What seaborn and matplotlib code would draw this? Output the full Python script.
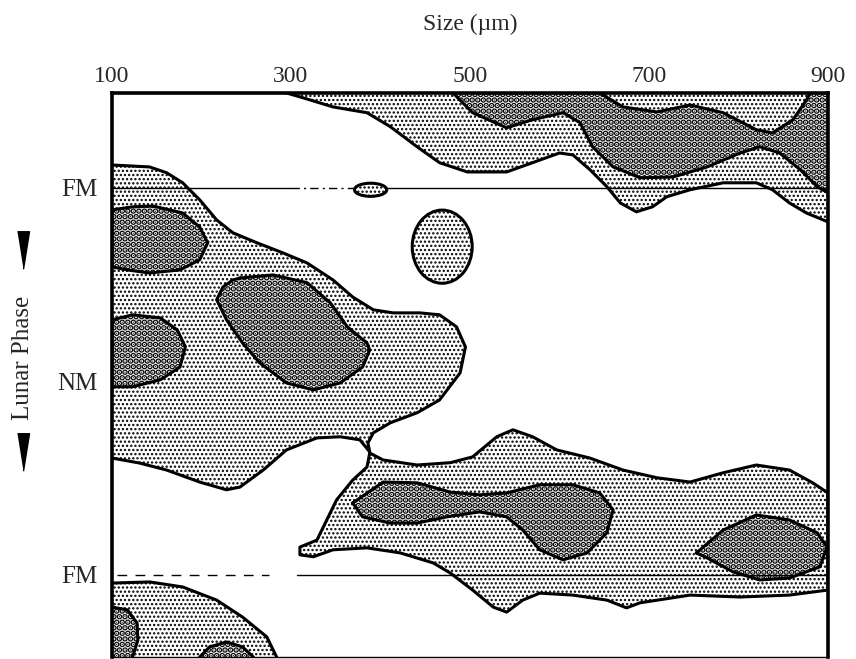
import matplotlib
matplotlib.use("Agg")
import matplotlib.pyplot as plt
import seaborn as sns
from matplotlib.patches import Ellipse

sns.set_style("white")
plt.rcParams['font.family'] = ['Liberation Serif', 'DejaVu Serif']
plt.rcParams['hatch.color'] = 'black'

# x = size (um), y = lunar phase (0 = full moon, 0.5 = new moon, 1 = next full moon)
size_ticks = [100, 300, 500, 700, 900]
phase_ticks = [0, 0.5, 1]
phase_labels = ["FM", "NM", "FM"]
y_top, y_bottom = -0.245, 1.212

# upper band (light) - lower edge, runs from top spine to right spine
top_light_x = [295, 310, 347, 385, 411, 441, 466, 497, 541, 570, 600, 615, 634, 653, 668, 686,
               704, 720, 746, 783, 820, 838, 857, 876, 900]
top_light_y = [-0.245, -0.235, -0.209, -0.194, -0.158, -0.106, -0.065, -0.041, -0.041, -0.065,
               -0.090, -0.085, -0.047, -0.003, 0.039, 0.062, 0.049, 0.023, 0.005, -0.013, -0.013,
               0.005, 0.039, 0.065, 0.088]
# upper band (dense) - lower edge
top_dark_x = [481, 503, 541, 570, 604, 623, 637, 660, 690, 727, 765, 802, 824, 846, 869, 888, 900]
top_dark_y = [-0.245, -0.194, -0.155, -0.176, -0.194, -0.168, -0.106, -0.054, -0.026, -0.028,
              -0.054, -0.090, -0.106, -0.090, -0.047, -0.003, 0.013]
# light pocket inside the dense band at the top
top_gap_x = [645, 671, 709, 746, 783, 820, 838, 861, 876, 880]
top_gap_y = [-0.245, -0.209, -0.196, -0.214, -0.194, -0.150, -0.142, -0.176, -0.227, -0.245]

# left light area (open against left spine)
left_light_x = [100, 142, 161, 179, 198, 217, 235, 262, 291, 318, 347, 369, 392, 414, 444, 466,
                485, 495, 489, 466, 441, 411, 392, 386, 388, 377, 355, 329, 295, 269, 243, 228,
                198, 161, 131, 100]
left_light_y = [-0.059, -0.054, -0.039, -0.013, 0.031, 0.083, 0.116, 0.142, 0.168, 0.194, 0.238,
                0.282, 0.315, 0.323, 0.323, 0.328, 0.359, 0.411, 0.478, 0.548, 0.581, 0.607,
                0.633, 0.659, 0.682, 0.651, 0.643, 0.646, 0.677, 0.729, 0.773, 0.780, 0.760,
                0.729, 0.711, 0.698]
blob_a_x = [100, 123, 146, 179, 198, 207, 198, 176, 142, 117, 100]
blob_a_y = [0.057, 0.049, 0.047, 0.065, 0.101, 0.142, 0.186, 0.212, 0.220, 0.212, 0.204]
blob_b_x = [243, 280, 318, 344, 363, 385, 388, 380, 355, 325, 295, 265, 246, 228, 217, 224, 235]
blob_b_y = [0.233, 0.225, 0.245, 0.297, 0.359, 0.401, 0.419, 0.463, 0.504, 0.522, 0.504, 0.452,
            0.401, 0.341, 0.289, 0.256, 0.238]
blob_c_x = [100, 123, 154, 173, 182, 176, 154, 123, 100]
blob_c_y = [0.341, 0.328, 0.336, 0.367, 0.411, 0.463, 0.496, 0.514, 0.514]

# lower light band
bottom_light_x = [388, 403, 441, 478, 503, 530, 548, 570, 597, 634, 671, 709, 746, 783, 820, 857,
                  883, 900, 900, 857, 802, 746, 690, 675, 653, 615, 578, 559, 541, 526, 503, 478,
                  459, 422, 385, 347, 325, 310, 310, 329, 340, 351, 369, 385]
bottom_light_y = [0.685, 0.703, 0.716, 0.710, 0.695, 0.643, 0.625, 0.643, 0.677, 0.698, 0.729,
                  0.749, 0.760, 0.736, 0.716, 0.729, 0.762, 0.788, 1.039, 1.052, 1.057, 1.052,
                  1.072, 1.085, 1.065, 1.052, 1.047, 1.065, 1.096, 1.083, 1.039, 0.995, 0.969,
                  0.943, 0.930, 0.935, 0.953, 0.948, 0.928, 0.910, 0.858, 0.806, 0.755, 0.721]
blob_d_x = [369, 403, 441, 478, 511, 541, 578, 615, 645, 660, 653, 631, 604, 578, 559, 541, 511,
            474, 441, 411, 380]
blob_d_y = [0.814, 0.760, 0.762, 0.786, 0.793, 0.788, 0.767, 0.767, 0.788, 0.832, 0.891, 0.943,
            0.961, 0.935, 0.884, 0.850, 0.837, 0.850, 0.866, 0.866, 0.850]
blob_e_x = [753, 783, 820, 857, 888, 899, 891, 857, 824, 794, 765]
blob_e_y = [0.943, 0.884, 0.845, 0.858, 0.891, 0.928, 0.979, 1.008, 1.013, 0.992, 0.956]

# bottom-left corner
corner_light_x = [100, 142, 179, 217, 246, 273, 284]
corner_light_y = [1.021, 1.018, 1.031, 1.065, 1.109, 1.160, 1.212]
blob_f_x = [100, 117, 128, 129, 123]
blob_f_y = [1.083, 1.090, 1.124, 1.168, 1.212]
blob_g_x = [198, 209, 228, 246, 258]
blob_g_y = [1.212, 1.186, 1.173, 1.186, 1.212]

# small islands: centre size, centre phase, width, height
islands = [(389, 0.005, 36, 0.034), (469, 0.152, 67, 0.189)]

# full moon reference lines: (solid segments, broken segments)
fm0_solid = [(100, 300), (407, 900)]
fm0_broken = [(300, 371)]
fm1_solid = [(307, 900)]
fm1_broken = [(106, 276)]

fig = plt.figure(figsize=(8.56, 6.59), dpi=100)
ax = fig.add_axes([0.1308, 0.003, 0.8364, 0.8559])

LIGHT = dict(facecolor="white", edgecolor="black", hatch="....", linewidth=0)
DARK = dict(facecolor="#f0f0f0", edgecolor="black", hatch="...", linewidth=0)
EDGE = dict(color="black", linewidth=2.2, solid_joinstyle="round", solid_capstyle="round")
LIGHT_LW, DARK_LW = 1.1, 3.0


def set_hatch_lw(patches, lw):
    for p in patches:
        if hasattr(p, "set_hatch_linewidth"):
            p.set_hatch_linewidth(lw)


def fill_light(xs, ys):
    with plt.rc_context({'hatch.linewidth': LIGHT_LW}):
        set_hatch_lw(ax.fill(xs, ys, **LIGHT), LIGHT_LW)


def fill_dark(xs, ys):
    with plt.rc_context({'hatch.linewidth': DARK_LW}):
        set_hatch_lw(ax.fill(xs, ys, **DARK), DARK_LW)


# upper band
fill_light(top_light_x + [900], top_light_y + [y_top])
fill_dark(top_dark_x + [900], top_dark_y + [y_top])
fill_light(top_gap_x, top_gap_y)
for xs, ys in [(top_light_x, top_light_y), (top_dark_x, top_dark_y), (top_gap_x, top_gap_y)]:
    ax.plot(xs, ys, **EDGE)

# left area
fill_light(left_light_x, left_light_y)
ax.plot(left_light_x, left_light_y, **EDGE)
for xs, ys in [(blob_a_x, blob_a_y), (blob_b_x, blob_b_y), (blob_c_x, blob_c_y)]:
    fill_dark(xs, ys)
    ax.plot(xs + xs[:1], ys + ys[:1], **EDGE)

# lower band
fill_light(bottom_light_x, bottom_light_y)
ax.plot(bottom_light_x + bottom_light_x[:1], bottom_light_y + bottom_light_y[:1], **EDGE)
for xs, ys in [(blob_d_x, blob_d_y), (blob_e_x, blob_e_y)]:
    fill_dark(xs, ys)
    ax.plot(xs + xs[:1], ys + ys[:1], **EDGE)

# bottom-left corner
fill_light(corner_light_x + [100], corner_light_y + [y_bottom])
ax.plot(corner_light_x, corner_light_y, **EDGE)
fill_dark(blob_f_x + [100], blob_f_y + [y_bottom])
ax.plot(blob_f_x, blob_f_y, **EDGE)
fill_dark(blob_g_x, blob_g_y)
ax.plot(blob_g_x, blob_g_y, **EDGE)

for cx, cy, w, h in islands:
    with plt.rc_context({'hatch.linewidth': LIGHT_LW}):
        isl = ax.add_patch(Ellipse((cx, cy), w, h, **LIGHT))
        set_hatch_lw([isl], LIGHT_LW)
    ax.add_patch(Ellipse((cx, cy), w, h, fill=False, edgecolor="black", linewidth=2.2))

# full moon lines
for y, solid in [(0, fm0_solid), (1, fm1_solid)]:
    for a, b in solid:
        ax.plot([a, b], [y, y], color="black", linewidth=1.0)
for a, b in fm0_broken:
    ax.plot([a, b], [0, 0], color="black", linewidth=1.0, linestyle=(0, (6, 3, 1.5, 3)))
for a, b in fm1_broken:
    ax.plot([a, b], [1, 1], color="black", linewidth=1.0, linestyle=(0, (7, 6)))

ax.set_xlim(100, 900)
ax.set_ylim(y_bottom, y_top)
ax.xaxis.tick_top()
ax.xaxis.set_label_position("top")
ax.set_xticks(size_ticks)
ax.set_xticklabels([str(t) for t in size_ticks])
ax.set_yticks(phase_ticks)
ax.set_yticklabels(phase_labels)
ax.tick_params(axis="x", length=0, pad=4, labelsize=17)
ax.tick_params(axis="y", length=0, pad=10, labelsize=18)
ax.set_xlabel("Size (\u00b5m)", fontsize=17, labelpad=26)

for side in ["left", "top", "right"]:
    ax.spines[side].set_linewidth(2.6)
    ax.spines[side].set_color("black")
ax.spines["bottom"].set_linewidth(1.0)
ax.spines["bottom"].set_color("black")

# y label with arrows
ax.text(-0.124, 0.530, "Lunar Phase", transform=ax.transAxes, rotation=90,
        ha="center", va="center", fontsize=18)
arrow = [(-0.32, 1), (0.32, 1), (0, -1)]
for ya in [0.722, 0.363]:
    ax.plot([-0.124], [ya], transform=ax.transAxes, marker=arrow, markersize=27,
            color="black", clip_on=False)

fig.savefig("out.png", dpi=100)
